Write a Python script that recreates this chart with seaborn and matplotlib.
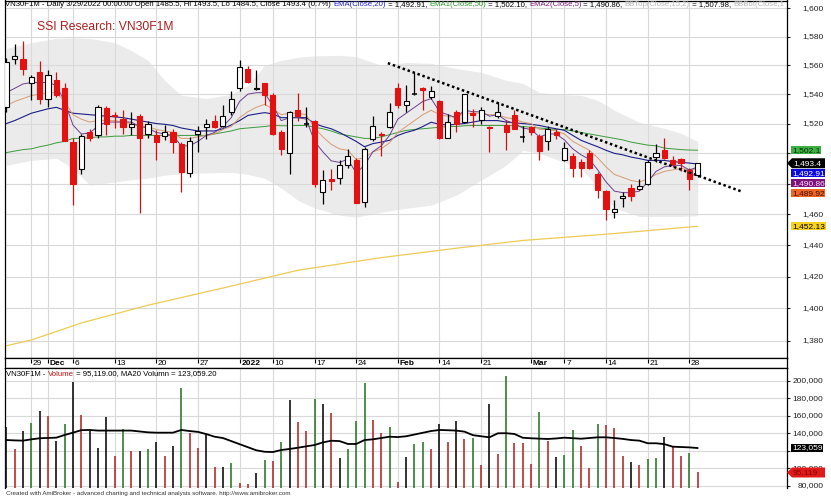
import numpy as np
import pandas as pd
import matplotlib
matplotlib.use("Agg")
import matplotlib.pyplot as plt
import seaborn as sns
from matplotlib.patches import Polygon
from matplotlib.transforms import blended_transform_factory, IdentityTransform

# trading days shown (AmiBroker skips weekends / Tet, bars are evenly spaced)
days_2021_11 = [24, 25, 26, 29, 30]
days_2021_12 = [1, 2, 3, 6, 7, 8, 9, 10, 13, 14, 15, 16, 17, 20, 21, 22, 23, 24, 27, 28, 29, 30, 31]
days_2022_01 = [4, 5, 6, 7, 10, 11, 12, 13, 14, 17, 18, 19, 20, 21, 24, 25, 26, 27, 28]
days_2022_02 = [7, 8, 9, 10, 11, 14, 15, 16, 17, 18, 21, 22, 23, 24, 25, 28]
days_2022_03 = [1, 2, 3, 4, 7, 8, 9, 10, 11, 14, 15, 16, 17, 18, 21, 22, 23, 24, 25, 28, 29]
dates = ([f"2021-11-{d:02d}" for d in days_2021_11] + [f"2021-12-{d:02d}" for d in days_2021_12]
         + [f"2022-01-{d:02d}" for d in days_2022_01] + [f"2022-02-{d:02d}" for d in days_2022_02]
         + [f"2022-03-{d:02d}" for d in days_2022_03])

open_ = [1531, 1564.5, 1564.5, 1548, 1555.5, 1536.5, 1549.5, 1544.5, 1507.5, 1489.5,
         1514.5, 1512.5, 1530.5, 1526, 1523, 1518, 1525, 1513, 1512, 1511.5,
         1514.5, 1506.5, 1487, 1513, 1518, 1521.5, 1518.5, 1527.5, 1544.5, 1557.5,
         1543.5, 1547.5, 1539.5, 1514, 1500, 1529, 1520, 1522, 1474.5, 1483,
         1483.5, 1492.5, 1495.5, 1468, 1509.5, 1513, 1517.5, 1544, 1532.5, 1540,
         1544.5, 1538, 1535, 1510, 1527.5, 1521, 1527, 1522.5, 1518, 1525,
         1519, 1525.5, 1511, 1517.5, 1511.5, 1508, 1514.5, 1495.5, 1498, 1494,
         1500, 1486.5, 1475, 1461.5, 1470.5, 1477, 1476.5, 1479.5, 1497.5, 1502,
         1495.5, 1496.5, 1489, 1485.5]
high = [1565, 1575, 1577, 1553, 1563, 1556.5, 1555.5, 1547.5, 1510, 1513,
        1516, 1532.5, 1532, 1527.5, 1529, 1527.5, 1526.5, 1522, 1515.5, 1519,
        1516.5, 1507.5, 1511, 1518.5, 1523, 1526, 1532.5, 1542, 1563.5, 1559.5,
        1556.5, 1548, 1540.5, 1515.5, 1528.5, 1541, 1531.5, 1522.5, 1489, 1489.5,
        1495.5, 1503, 1497, 1504, 1525, 1514, 1534, 1548, 1546.5, 1555.5,
        1545, 1545.5, 1536, 1526.5, 1529, 1540, 1530, 1531, 1518.5, 1534.5,
        1522.5, 1529, 1518.5, 1518.5, 1513, 1518.5, 1516.5, 1507.5, 1500, 1496.5,
        1502, 1487.5, 1475.5, 1469.5, 1474.5, 1479.5, 1483, 1495.5, 1506, 1510,
        1498.5, 1497, 1490.5, 1493.5]
low = [1528, 1561, 1553.5, 1536, 1533.5, 1531, 1538, 1508, 1466, 1486.5,
       1508.5, 1510, 1512.5, 1517, 1513, 1512, 1460.5, 1510, 1495.5, 1509,
       1500, 1474.5, 1484.5, 1501, 1509.5, 1517, 1518, 1526, 1542, 1548,
       1543, 1532.5, 1512, 1499, 1486.5, 1522, 1517.5, 1477.5, 1466.5, 1475.5,
       1480, 1490.5, 1467, 1464.5, 1508.5, 1498.5, 1517, 1530.5, 1527.5, 1539.5,
       1529, 1536.5, 1509.5, 1510, 1514, 1520.5, 1517.5, 1520, 1501, 1523.5,
       1502, 1516, 1507.5, 1512, 1495.5, 1502.5, 1509.5, 1495, 1484, 1484.5,
       1489.5, 1470.5, 1456, 1457.5, 1464.5, 1468.5, 1475.5, 1479, 1494, 1496,
       1491, 1488, 1475.5, 1484.5]
close = [1562, 1566.5, 1557.5, 1551.5, 1536.5, 1553.5, 1539.5, 1508.5, 1480, 1511.5,
         1510, 1531.5, 1519.5, 1525, 1518, 1520, 1510, 1520, 1507.5, 1514,
         1507.5, 1487.5, 1508, 1515, 1519.5, 1518, 1525, 1536.5, 1558.5, 1548.5,
         1544.5, 1539.5, 1513, 1503, 1528, 1525, 1520, 1479.5, 1482, 1481.5,
         1492.5, 1498.5, 1467.5, 1503, 1518.5, 1512, 1527.5, 1532.5, 1535, 1540,
         1543, 1542, 1510, 1521, 1520, 1540, 1526, 1529, 1517, 1528,
         1514, 1516.5, 1511, 1514.5, 1501.5, 1516.5, 1512, 1503.5, 1490.5, 1490.5,
         1490, 1476, 1463, 1463.5, 1472, 1472, 1478.5, 1494, 1500, 1497,
         1493, 1493.5, 1483, 1493.4]

# moving averages
ema5 = [1541, 1544, 1547, 1548, 1548, 1548, 1546, 1535, 1519, 1513,
        1513.5, 1518.5, 1521, 1521, 1521, 1521, 1518, 1517, 1514, 1513,
        1512, 1505, 1505, 1508, 1512, 1514, 1518, 1524, 1535, 1540,
        1541, 1541, 1532, 1522, 1524, 1524, 1523, 1508, 1501, 1495,
        1494, 1496, 1487, 1492, 1501, 1505, 1512, 1523, 1527, 1531,
        1535, 1537, 1528, 1526, 1524, 1529, 1528, 1528, 1525, 1526,
        1522, 1520, 1517, 1516, 1511, 1513, 1513, 1509, 1503, 1499,
        1496, 1489, 1481, 1475, 1474, 1474, 1475, 1481, 1488, 1491,
        1492, 1492, 1489, 1490.86]
ema10 = [1532, 1535, 1537, 1539, 1540, 1541, 1541, 1535, 1526, 1523,
         1521, 1522, 1522, 1522, 1521, 1520, 1518, 1518, 1516, 1515,
         1514, 1510, 1510, 1511, 1512, 1513, 1516, 1518, 1524, 1528,
         1531, 1533, 1530, 1526, 1527, 1527, 1526, 1517, 1511, 1506,
         1503, 1502, 1496, 1497, 1501, 1503, 1507, 1514, 1518, 1522,
         1526, 1529, 1526, 1525, 1524, 1527, 1527, 1527, 1526, 1526,
         1524, 1523, 1521, 1520, 1516, 1516, 1515, 1513, 1508, 1505,
         1502, 1497, 1491, 1486, 1484, 1482, 1481, 1483, 1486, 1488,
         1489, 1490, 1489, 1489.92]
ema20 = [1520, 1522, 1524.5, 1527, 1528.5, 1530, 1531, 1529, 1527, 1526.5,
         1526, 1525.5, 1525, 1524.5, 1524, 1523, 1522, 1521, 1520, 1519.5,
         1518.7, 1517, 1516, 1515, 1515, 1515, 1516.5, 1519, 1522, 1525.5,
         1526.5, 1527.4, 1526.5, 1524, 1524, 1524, 1524, 1520, 1518, 1516.5,
         1514, 1511, 1508, 1504.4, 1506.5, 1507.5, 1508.7, 1512, 1514, 1515.5,
         1518, 1520.9, 1519.5, 1519, 1519.5, 1520, 1521, 1522, 1522, 1522,
         1521, 1520.5, 1520, 1519.5, 1518.7, 1517.5, 1516.5, 1515.4, 1512, 1508.7,
         1506.5, 1504.4, 1502, 1500, 1499, 1497.5, 1496.5, 1495.3, 1495.3, 1495.3,
         1494.5, 1494, 1493.5, 1492.91]
ema50 = [1500.5, 1501.5, 1502.5, 1503, 1504.4, 1505.5, 1507, 1508, 1510, 1510,
         1510.5, 1511, 1511, 1511.5, 1511.5, 1512, 1512, 1512, 1512, 1512,
         1512, 1512, 1512, 1512, 1512, 1513, 1514, 1515, 1516.5, 1517,
         1517.5, 1518, 1518.7, 1518.5, 1518.5, 1518.7, 1518.7, 1517.5, 1516.5, 1515,
         1513, 1512, 1511, 1510, 1510, 1511, 1512.5, 1514, 1515.4, 1516,
         1516.5, 1517, 1517.5, 1518, 1518, 1518.5, 1518.7, 1518.7, 1518.7, 1518.7,
         1518.7, 1518.5, 1518, 1517.5, 1517, 1516.5, 1516, 1516, 1515, 1514,
         1513, 1512, 1511, 1510, 1509, 1507.5, 1506.5, 1505.5, 1505, 1503.5,
         1503, 1502.5, 1502.2, 1502.1]
# long average (yellow), sampled along the line
slow_idx = [0, 3, 9, 17, 27, 35, 45, 54, 62, 72, 83]
slow_val = [1377, 1380.5, 1391, 1402, 1414, 1424, 1432, 1438, 1443, 1447, 1452.13]

# Bollinger band (15, 2) edges, sampled along the grey area
bb_idx = [0, 3, 6, 8, 10, 13, 15, 17, 19, 21, 24, 27, 29, 31, 33, 35, 37, 40,
          42, 45, 48, 51, 54, 57, 60, 62, 64, 66, 69, 71, 73, 76, 79, 81, 83]
bb_top = [1571.6, 1575.8, 1578.6, 1579, 1578.6, 1575.8, 1570.2, 1563.3, 1549.5, 1539.2,
          1537.1, 1539.8, 1546, 1559.8, 1563.3, 1565.4, 1566.5, 1566.8, 1566, 1559.8,
          1561.9, 1561.2, 1557.7, 1555, 1549.5, 1547.4, 1541.2, 1539.8, 1539.2, 1535.7,
          1529, 1520.8, 1516.8, 1513.4, 1507.98]
bb_bot = [1492.1, 1495.3, 1496.7, 1490, 1479, 1481, 1482.5, 1483.5, 1485.5, 1486.5,
          1487, 1487.4, 1486, 1483.5, 1477, 1469, 1464, 1459.3, 1458, 1461.2,
          1463.8, 1465.8, 1472.3, 1482.2, 1492.1, 1502, 1500, 1496, 1490, 1478,
          1464, 1458.5, 1458.5, 1458.5, 1459]

# hand drawn resistance line (bar position, price)
trend_idx = [45.8, 88.4]
trend_val = [1561.4, 1474.5]

volume = [146700, 121900, 142500, 152000, 165700, 159700, 131400, 150500, 198900, 160800,
          142900, 123400, 158200, 113900, 144400, 119700, 120000, 122300, 129600, 113900,
          125400, 191300, 140600, 123400, 139100, 101700, 101000, 106300, 82700, 82000,
          94900, 109400, 108200, 129600, 178000, 152800, 142900, 178700, 173400, 162700,
          111300, 122300, 154300, 197700, 155100, 139900, 146700, 84600, 112400, 127700,
          130000, 122300, 150500, 130000, 154300, 133400, 134900, 103700, 173400, 116200,
          205400, 128500, 129100, 104800, 164600, 130700, 112400, 115100, 143700, 125400,
          100600, 150500, 149400, 145600, 114300, 107400, 103700, 110500, 111300, 135300,
          123900, 113900, 117700, 95119]
vol_color = list("krkgkrkgkr" "kkkrgrkgkr" "kgrrkrkgrr" "kgrgkrrgkr" "kgggrrgrkg"
                 "grkrkrgrkr" "grrrgrkggr" "rgrrrkrggk" "rrgr")
vol_ma20 = [132200, 131800, 131500, 133000, 134200, 134600, 134900, 138000, 140600, 143500,
            143700, 143000, 143000, 143000, 143000, 143000, 142000, 141000, 140600, 140600,
            140600, 143700, 142500, 141500, 139000, 136000, 134500, 131000, 127500, 124000,
            120500, 118800, 118500, 120800, 122000, 123400, 125000, 126500, 129500, 131400,
            131000, 127700, 127700, 132200, 133000, 134500, 136000, 135600, 136500, 138500,
            140500, 142500, 143700, 143400, 143000, 141800, 137800, 136500, 135300, 139900,
            140000, 139100, 134800, 134200, 133800, 133400, 134000, 134900, 134300, 133700,
            134500, 135300, 135300, 134500, 133500, 132200, 131500, 128500, 128500, 127500,
            124600, 124200, 123800, 123059.2]

tick_dates = ["2021-11-29", "2021-12-01", "2021-12-06", "2021-12-13", "2021-12-20", "2021-12-27",
              "2022-01-04", "2022-01-10", "2022-01-17", "2022-01-24", "2022-02-07", "2022-02-14",
              "2022-02-21", "2022-03-01", "2022-03-07", "2022-03-14", "2022-03-21", "2022-03-28"]
tick_labels = ["29", "Dec", "6", "13", "20", "27", "2022", "10", "17", "24", "Feb", "14",
               "21", "Mar", "7", "14", "21", "28"]
price_ticks = [1380, 1400, 1420, 1440, 1460, 1480, 1500, 1520, 1540, 1560, 1580, 1600]
vol_ticks = [80000, 100000, 120000, 140000, 160000, 180000, 200000]

sns.set_theme(style="white")
plt.rcParams['font.family'] = ['Liberation Sans', 'DejaVu Sans']
plt.rcParams['axes.linewidth'] = 0.9

RED = '#e31212'
GRID = '#d9d9d9'
W, H = 831, 500
fig = plt.figure(figsize=(W / 100, H / 100), dpi=100)


def panel(x0, y0, x1, y1):
    return fig.add_axes([x0 / W, 1 - y1 / H, (x1 - x0) / W, (y1 - y0) / H])


ax = panel(4.5, 0.5, 787, 358)
ax_d = panel(4.5, 358, 787, 368)
ax_v = panel(4.5, 368, 787, 488)

x = np.arange(len(dates))
o, h, l, c = (np.array(a, dtype=float) for a in (open_, high, low, close))
tick_idx = [dates.index(d) for d in tick_dates]
xlim = (-0.22, 93.72)

# ---- price panel ----
ax.set_yscale('log')
ax.set_xlim(*xlim)
ax.set_ylim(1369.5, 1605.5)
ax.fill_between(bb_idx, bb_bot, bb_top, color='#ebebeb', lw=0, zorder=1)
sns.lineplot(x=slow_idx, y=slow_val, ax=ax, color='#eccb55', lw=0.9, zorder=2)
sns.lineplot(x=x, y=ema50, ax=ax, color='#3b9a3b', lw=0.7, zorder=2)
sns.lineplot(x=x, y=ema20, ax=ax, color='#1b1f86', lw=0.8, zorder=2)
sns.lineplot(x=x, y=ema10, ax=ax, color='#d89a72', lw=0.7, zorder=2)
sns.lineplot(x=x, y=ema5, ax=ax, color='#6a3f8e', lw=0.7, zorder=2)

up, dn, flat = c > o, c < o, c == o
ax.vlines(x, l, h, colors=np.where(dn, '#c81414', 'black'), lw=0.9, zorder=3)
ax.bar(x[up], c[up] - o[up], bottom=o[up], width=0.62, color='white',
       edgecolor='black', lw=0.8, zorder=4)
ax.bar(x[dn], o[dn] - c[dn], bottom=c[dn], width=0.62, color=RED,
       edgecolor=RED, lw=0.8, zorder=4)
ax.hlines(o[flat], x[flat] - 0.31, x[flat] + 0.31, colors='black', lw=1.1, zorder=4)
ax.plot(trend_idx, trend_val, color='black', lw=1.8, ls=(0, (1, 1.1)), zorder=5)

ax.set_xticks(tick_idx)
ax.set_xticklabels([])
ax.set_yticks(price_ticks)
ax.set_yticklabels([])
ax.yaxis.set_minor_locator(matplotlib.ticker.NullLocator())
ax.tick_params(axis='x', length=0)
ax.tick_params(axis='y', left=False, right=True, direction='out', length=2.5, width=0.8)
ax.grid(True, color=GRID, lw=0.8)
ax.set_axisbelow('line')
ax.set_xlabel('')
ax.set_ylabel('')
for s in ax.spines.values():
    s.set_color('black')

# ---- date strip ----
ax_d.set_xlim(*xlim)
ax_d.set_ylim(0, 1)
ax_d.set_xticks([])
ax_d.set_yticks([])
for s in ax_d.spines.values():
    s.set_color('black')
ax_d.vlines(tick_idx, 0.5, 0.92, color='black', lw=0.8)
for i, t in zip(tick_idx, tick_labels):
    ax_d.text(i + 0.2, 0.42, t, ha='left', va='center', fontsize=6, color='black',
              fontweight='bold' if not t.isdigit() or len(t) == 4 else 'normal')

# ---- volume panel ----
ax_v.set_xlim(*xlim)
ax_v.set_ylim(77400, 214500)
vcols = {'g': '#2f7d2f', 'r': '#b3302c', 'k': '#111111'}
ax_v.vlines(x, 77400, volume, colors=[vcols[k] for k in vol_color], lw=1.2, zorder=3)
sns.lineplot(x=x, y=vol_ma20, ax=ax_v, color='black', lw=1.3, zorder=4)
ax_v.set_xticks(tick_idx)
ax_v.set_xticklabels([])
ax_v.set_yticks(vol_ticks)
ax_v.set_yticklabels([])
ax_v.tick_params(axis='x', length=0)
ax_v.tick_params(axis='y', left=False, right=True, direction='out', length=2.5, width=0.8)
ax_v.grid(True, color=GRID, lw=0.8)
ax_v.set_axisbelow('line')
ax_v.set_xlabel('')
ax_v.set_ylabel('')
for s in ax_v.spines.values():
    s.set_color('black')
ax_v.spines['bottom'].set_visible(False)

# ---- texts ----
renderer = fig.canvas.get_renderer()
clip_right = 786


def color_line(x_px, y_px, pieces, size):
    for s, col in pieces:
        if x_px >= clip_right:
            break
        t = fig.text(x_px / W, 1 - y_px / H, s, color=col, fontsize=size, ha='left', va='center')
        w = t.get_window_extent(renderer).width
        while s and x_px + w > clip_right:
            s = s[:-1]
            t.set_text(s)
            w = t.get_window_extent(renderer).width
        x_px += w


pct = (c[-1] / c[-2] - 1) * 100
color_line(5, 5, [
    (f"VN30F1M - Daily 3/29/2022 00:00:00 Open {o[-1]}, Hi {h[-1]}, Lo {l[-1]}, "
     f"Close {c[-1]} ({pct:.1f}%) ", 'black'),
    ("EMA(Close,20)", '#2424c8'), (f" = {ema20[-1]:,.2f}, ", 'black'),
    ("EMA1(Close,50)", '#2f9a2f'), (f" = {ema50[-1]:,.2f}, ", 'black'),
    ("EMA2(Close,5)", '#7a1f7a'), (f" = {ema5[-1]:,.2f}, ", 'black'),
    ("BBTop(Close,15,2)", '#b5b5b5'), (f" = {bb_top[-1]:,.2f}, ", 'black'),
    ("BBBot(Close,15,2)", '#b5b5b5'), (f" = {bb_bot[-1]:,.2f}", 'black'),
], 5.6)
fig.text(37 / W, 1 - 26.5 / H, "SSI Research: VN30F1M", color='#b01c1c', fontsize=8.7,
         ha='left', va='center')
color_line(6, 374, [("VN30F1M - ", 'black'), ("Volume", '#c01010'),
                    (f" = {volume[-1]:,.2f}, MA20 Volumn = {vol_ma20[-1]:,.2f}", 'black')],
           5.6)
fig.text(6 / W, 1 - 494 / H, "Created with AmiBroker - advanced charting and technical "
         "analysis software. http://www.amibroker.com", fontsize=4.5, color='#333333',
         ha='left', va='center')


def y_of(axis, v):
    return H - axis.transData.transform((0, v))[1]


def value_box(y_px, s, fc, tc, arrow=False, axis_x=787, size=6):
    if arrow:
        pts = [(axis_x, y_px), (axis_x + 5, y_px - 5), (825, y_px - 5), (825, y_px + 5),
               (axis_x + 5, y_px + 5)]
        fig.add_artist(Polygon([(px, H - py) for px, py in pts], closed=True, fc=fc,
                               ec='none', transform=IdentityTransform(), zorder=5))
        fig.text(793 / W, 1 - y_px / H, s, color=tc, fontsize=size, ha='left', va='center',
                 zorder=6)
    else:
        fig.text(792 / W, 1 - y_px / H, s, color=tc, fontsize=size, ha='left', va='center',
                 bbox=dict(boxstyle='square,pad=0.08', fc=fc, ec='none'), zorder=6)


# right-hand value labels, stacked downwards so they do not overlap
labels = [(ema50[-1], f"{ema50[-1]:,.1f}", '#3cb043', '#0a2a0a', False),
          (c[-1], f"{c[-1]:,.1f}", 'black', 'white', True),
          (ema20[-1], f"{ema20[-1]:,.2f}", '#0a0ae0', 'white', False),
          (ema5[-1], f"{ema5[-1]:,.2f}", '#7a127a', '#ffd8ff', False),
          (ema10[-1], f"{ema10[-1]:,.2f}", '#f06424', '#3a1000', False),
          (slow_val[-1], f"{slow_val[-1]:,.2f}", '#f6d21e', 'black', False)]
price_boxes = []
prev = -100
for v, s, fc, tc, arr in labels:
    y = max(y_of(ax, v), prev + 10)
    value_box(y, s, fc, tc, arr)
    price_boxes.append(y)
    prev = y

vol_boxes = [y_of(ax_v, vol_ma20[-1]), y_of(ax_v, volume[-1])]
value_box(vol_boxes[0], f"{vol_ma20[-1]:,.0f}", 'black', 'white')
value_box(vol_boxes[1], f"{volume[-1]:,}", '#e01a1a', '#8a0000', arrow=True)

# axis numbers on the right; those fully hidden behind a value box are left out
lab_x = (823.5 - 4.5) / (787 - 4.5)
for axis, ticks, boxes in ((ax, price_ticks, price_boxes), (ax_v, vol_ticks, vol_boxes)):
    trb = blended_transform_factory(axis.transAxes, axis.transData)
    for v in ticks:
        if min(abs(y_of(axis, v) - b) for b in boxes) < 4:
            continue
        axis.text(lab_x, v, f"{v:,}", transform=trb, ha='right', va='center',
                  fontsize=6, color='#222222', clip_on=False)

fig.savefig("out.png", dpi=100)
